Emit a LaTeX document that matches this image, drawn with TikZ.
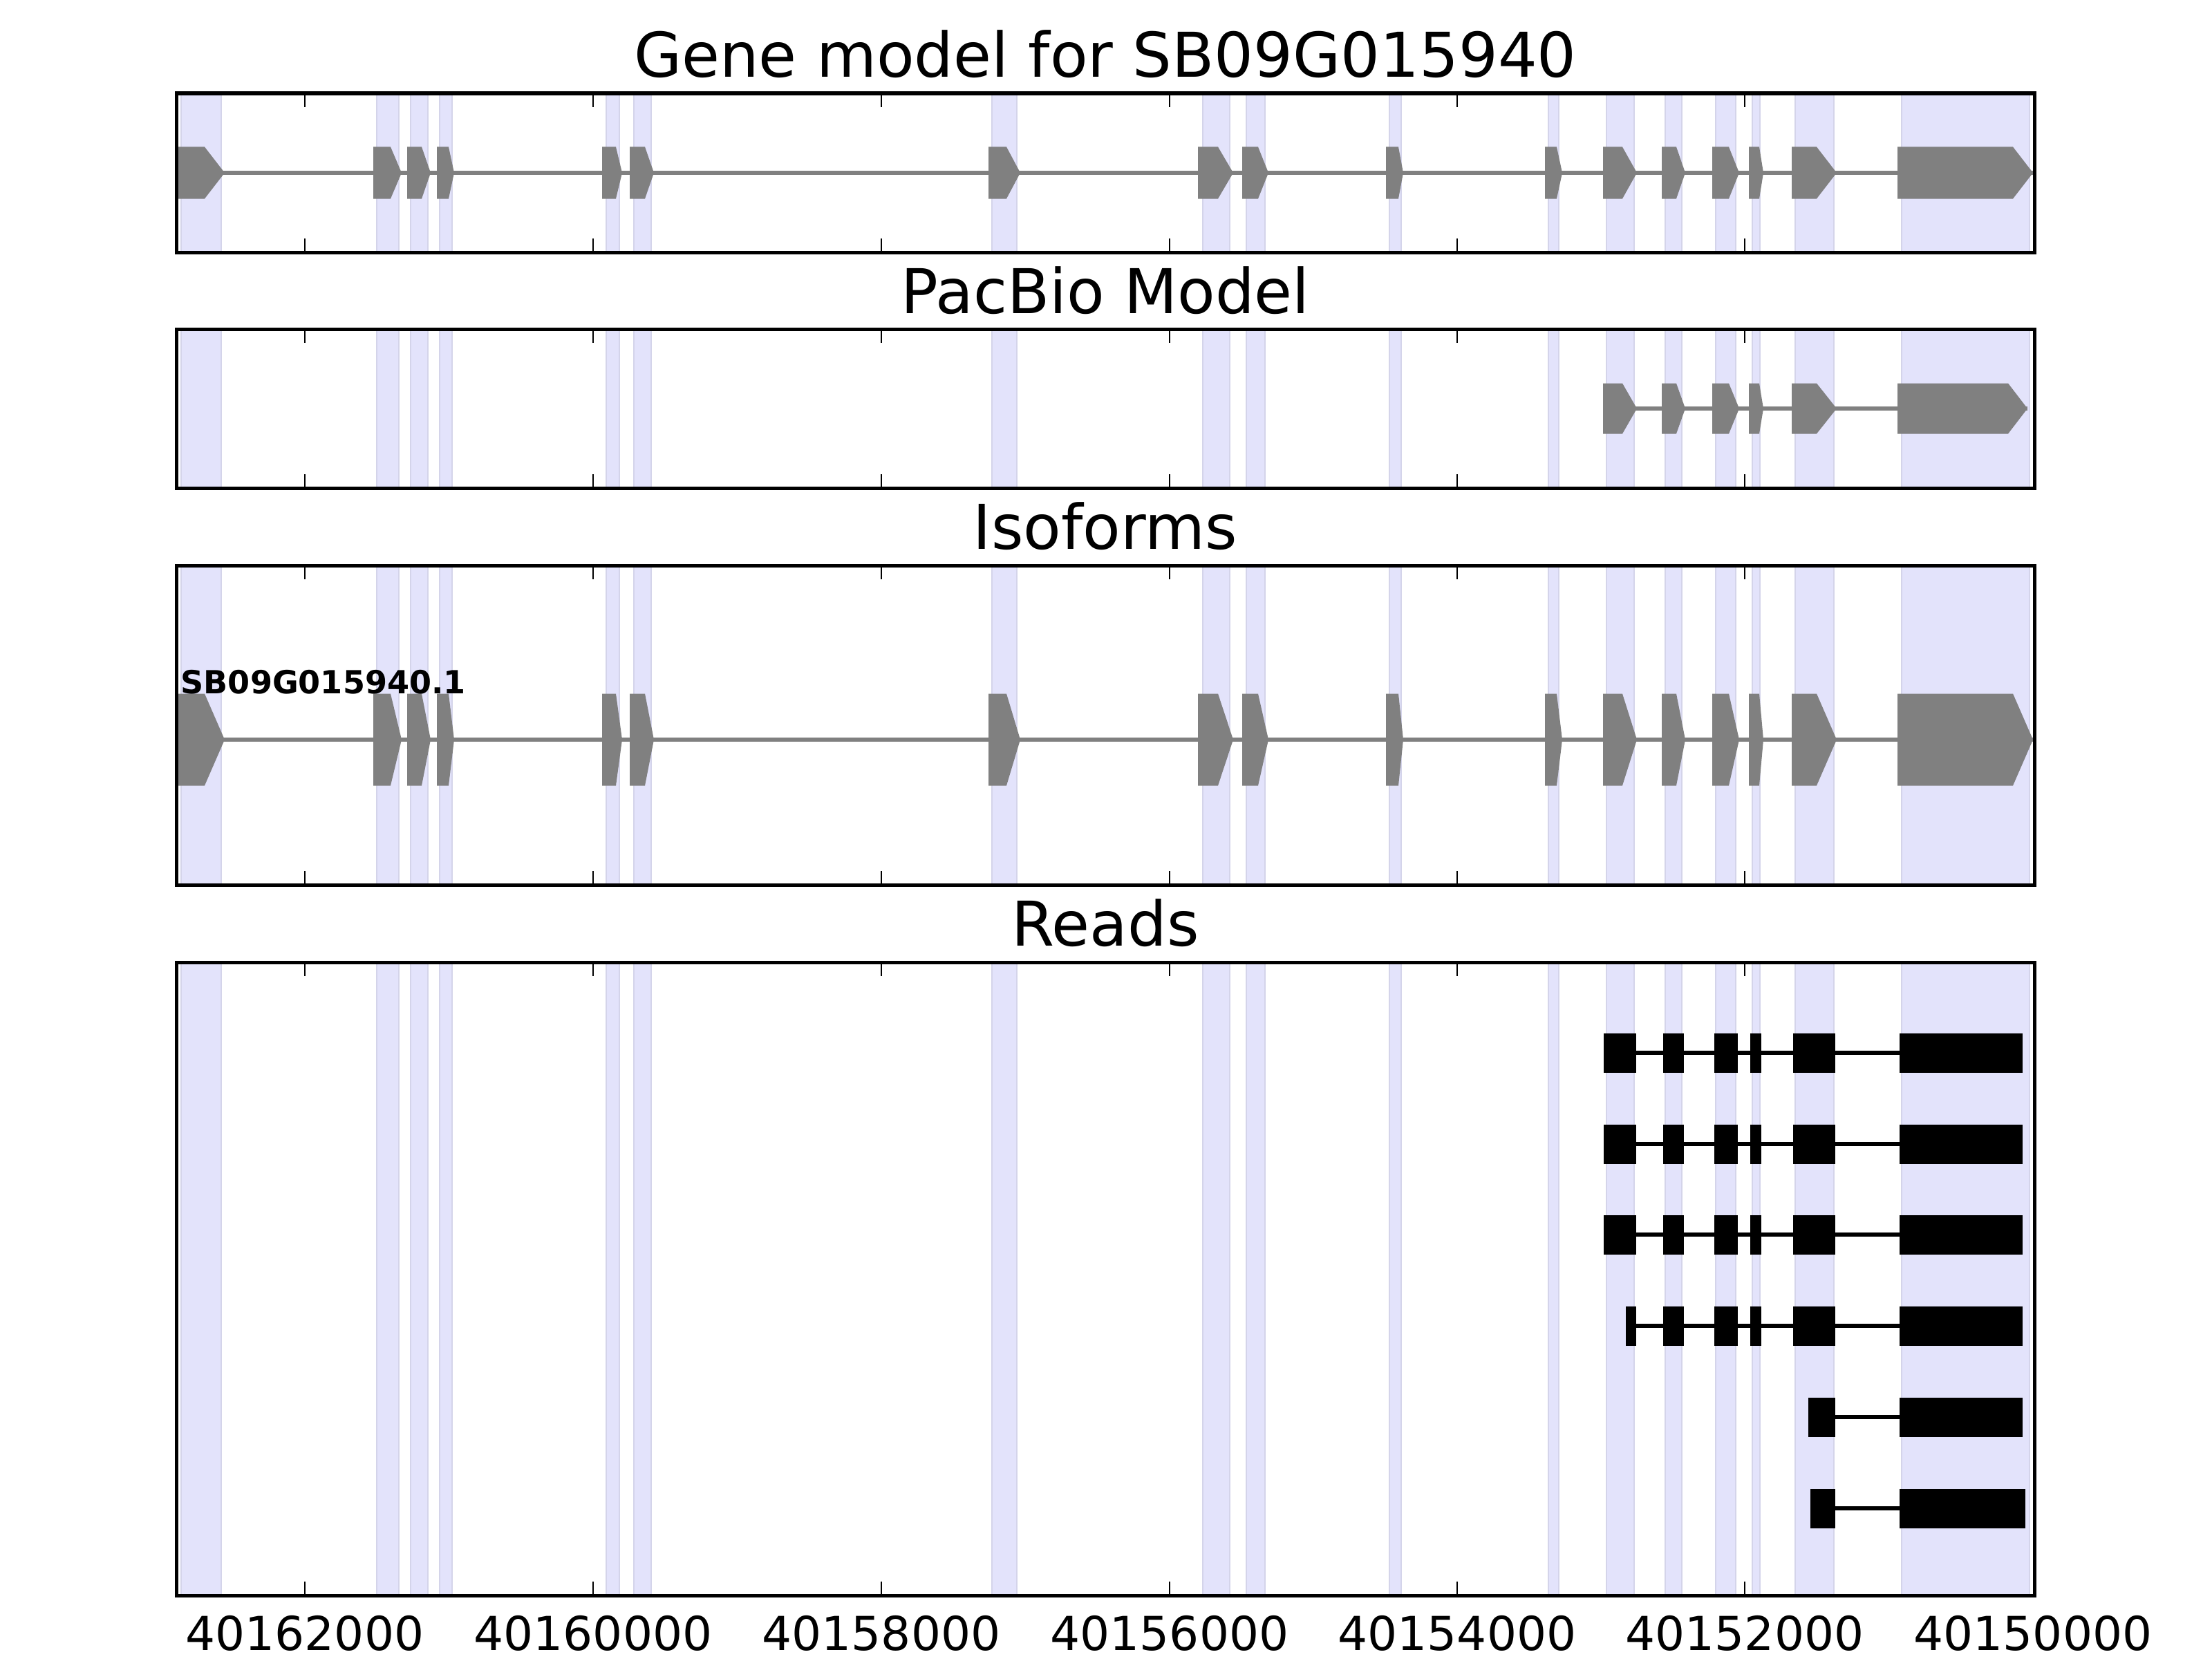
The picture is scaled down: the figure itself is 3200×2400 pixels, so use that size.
\documentclass[tikz,border=0pt]{standalone}
\usepackage{fontspec}
\setmainfont{DejaVu Sans}
\definecolor{shadefill}{RGB}{227,227,251}
\definecolor{shadeedge}{RGB}{212,212,234}
\definecolor{exgray}{RGB}{128,128,128}
\tikzset{
  panelborder/.style={draw=black,line width=0.05cm},
  tickmark/.style={draw=black,line width=0.025cm},
  shadecol/.style={fill=shadefill,draw=shadeedge,line width=0.02cm},
  intronline/.style={draw=exgray,line width=0.055cm},
  readline/.style={draw=black,line width=0.06cm},
  titletext/.style={anchor=base,inner sep=0pt,font=\fontsize{25.4}{30}\selectfont},
  ticktext/.style={anchor=base,inner sep=0pt,font=\fontsize{19.25}{23}\selectfont},
}
% exon arrow: x1, rect end, tip, y-centre, half height
\newcommand\gexon[5]{\fill[exgray] (#1,#4-#5) -- (#2,#4-#5) -- (#3,#4) -- (#2,#4+#5) -- (#1,#4+#5) -- cycle;}
% read block: x1, x2, y-centre
\newcommand\rblock[3]{\fill[black] (#1,#3-28.5) rectangle (#2,#3+28.5);}
\newcommand\exlist{255/296/325,540/565/581,589/610/623,632/649/657,871/891/900,911/933/946,1430/1456/1476,1733/1762/1784,1797/1820/1835,2005/2023/2030,2235/2252/2260,2319/2347/2368,2404/2425/2438,2477/2501/2516,2530/2545/2551,2592/2628/2657,2745/2912/2941}
\begin{document}
\begin{tikzpicture}[x=0.01cm,y=-0.01cm]
\useasboundingbox (0,0) rectangle (3200,2400);
\fill[white] (0,0) rectangle (3200,2400);
% panels: shading
\foreach \pt/\pb in {135/365,476/706,818/1280,1392/2308}{
  \foreach \a/\b in {262/320,545/577,594/619,636/654,877/896,917/942,1435/1471,1740/1779,1803/1830,2010/2027,2240/2255,2324/2364,2409/2433,2482/2511,2535/2546,2597/2653,2751/2936}{
    \path[shadecol] (\a,\pt) rectangle (\b,\pb);
  }
}
% Gene model
\draw[intronline] (255,250) -- (2941,250);
\foreach \a/\b/\c in \exlist {\gexon{\a}{\b}{\c}{250}{37.5}}
% PacBio model
\draw[intronline] (2319,591) -- (2933,591);
\foreach \a/\b/\c in {2319/2347/2368,2404/2425/2438,2477/2501/2516,2530/2545/2551,2592/2628/2657,2745/2905/2933} {\gexon{\a}{\b}{\c}{591}{36.5}}
% Isoforms
\draw[intronline] (255,1070) -- (2941,1070);
\foreach \a/\b/\c in \exlist {\gexon{\a}{\b}{\c}{1070}{66.5}}
\node[anchor=base west,inner sep=0pt,font=\fontsize{13.1}{16}\selectfont\bfseries] (isolabel) at (261,1003) {SB09G015940.1};
% Reads
\foreach \y in {1523,1655,1786}{
  \draw[readline] (2320,\y) -- (2926,\y);
  \foreach \a/\b in {2320/2367,2406/2436,2480/2514,2532/2548,2594/2655,2748/2926} {\rblock{\a}{\b}{\y}}
}
\draw[readline] (2352,1918) -- (2926,1918);
\foreach \a/\b in {2352/2367,2406/2436,2480/2514,2532/2548,2594/2655,2748/2926} {\rblock{\a}{\b}{1918}}
\draw[readline] (2616,2050) -- (2926,2050);
\rblock{2616}{2655}{2050}\rblock{2748}{2926}{2050}
\draw[readline] (2619,2182) -- (2930,2182);
\rblock{2619}{2655}{2182}\rblock{2748}{2930}{2182}
% ticks and borders
\foreach \pt/\pb in {135/365,476/706,818/1280,1392/2308}{
  \foreach \tx in {441,858,1275,1692,2108,2524}{
    \draw[tickmark] (\tx,\pt) -- (\tx,\pt+20);
    \draw[tickmark] (\tx,\pb) -- (\tx,\pb-20);
  }
  \draw[panelborder] (255,\pt) rectangle (2943,\pb);
}
% titles
\node[titletext] (title1) at (1599,112) {Gene model for SB09G015940};
\node[titletext] (title2) at (1599,453) {PacBio Model};
\node[titletext] (title3) at (1599,794) {Isoforms};
\node[titletext] (title4) at (1599,1368) {Reads};
% tick labels
\foreach \tx/\lab [count=\i] in {441/40162000,858/40160000,1275/40158000,1692/40156000,2108/40154000,2524/40152000,2941/40150000}{
  \node[ticktext] (xl\i) at (\tx,2387) {\lab};
}
\end{tikzpicture}
\end{document}
